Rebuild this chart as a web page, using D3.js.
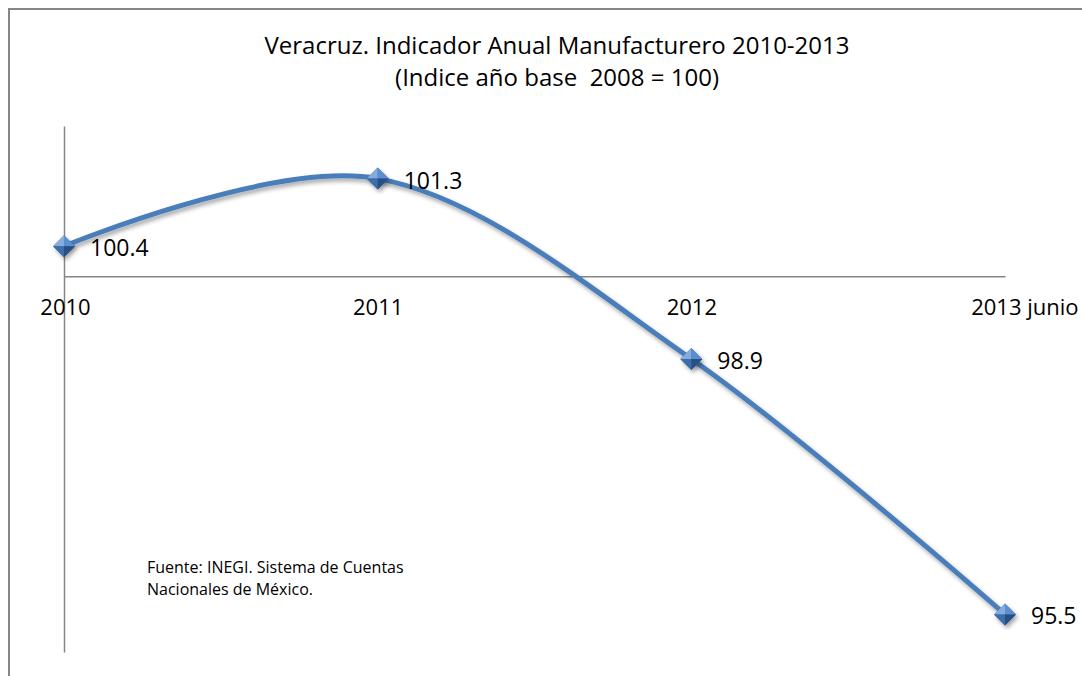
<!DOCTYPE html>
<html>
<head>
<meta charset="utf-8">
<script src="https://cdn.jsdelivr.net/npm/d3@7"></script>
<style>
  body { margin: 0; background: #fff; }
  text { font-family: "Open Sans", sans-serif; fill: #000; }
</style>
</head>
<body>
<div id="chart"></div>
<script>
// datos
const categorias = ['2010', '2011', '2012', '2013 junio'];
const valores = [100.4, 101.3, 98.9, 95.5];
const etiquetas = ['100.4', '101.3', '98.9', '95.5'];
const titulo = ['Veracruz. Indicador Anual Manufacturero 2010-2013', '(Indice año base  2008 = 100)'];
const fuente = ['Fuente: INEGI. Sistema de Cuentas', 'Nacionales de México.'];

const svgWidth = 1082;
const svgHeight = 676;
const margin = { top: 126, right: 77, bottom: 24, left: 64 };
const width = svgWidth - margin.left - margin.right;
const height = svgHeight - margin.top - margin.bottom;

const root = d3.select('#chart')
  .append('svg')
  .attr('width', svgWidth)
  .attr('height', svgHeight);

// sombra para linea y marcadores
const defs = root.append('defs');
const f = defs.append('filter').attr('id', 'sombra')
  .attr('x', '-20%').attr('y', '-20%').attr('width', '140%').attr('height', '140%');
f.append('feDropShadow')
  .attr('dx', 2).attr('dy', 3).attr('stdDeviation', 2.2)
  .attr('flood-color', '#000').attr('flood-opacity', 0.35);

// marco del grafico
root.append('path')
  .attr('d', `M9,${svgHeight} L9,9 L${svgWidth},9`)
  .attr('fill', 'none')
  .attr('stroke', '#868686')
  .attr('stroke-width', 2);

const svg = root.append('g')
  .attr('transform', `translate(${margin.left},${margin.top})`);

const xScale = d3.scalePoint()
  .domain(categorias)
  .range([0, width]);

const yScale = d3.scaleLinear()
  .domain([95, 102])
  .range([height, 0]);

// eje Y
svg.append('g')
  .attr('class', 'y-axis')
  .call(d3.axisLeft(yScale).tickValues([]).tickSizeOuter(0))
  .select('.domain')
  .attr('stroke', '#868686')
  .attr('stroke-width', 1.5);

// eje X (cruza en 100)
const xAxis = svg.append('g')
  .attr('class', 'x-axis')
  .attr('transform', `translate(0,${yScale(100)})`)
  .call(d3.axisBottom(xScale).tickSize(0).tickPadding(23));
xAxis.select('.domain')
  .attr('stroke', '#868686')
  .attr('stroke-width', 1.5);
xAxis.selectAll('text')
  .style('font-size', '22px')
  .style('font-family', '"Open Sans", sans-serif')
  .attr('dy', '0.7em');
xAxis.selectAll('.tick text').filter((d, i) => i === 0).attr('dx', 1);
xAxis.selectAll('.tick text').filter((d, i) => i === categorias.length - 1)
  .attr('text-anchor', 'end')
  .attr('dx', 1078 - margin.left - width);

const datos = categorias.map((c, i) => ({ c, v: valores[i], t: etiquetas[i] }));

// linea suavizada
const linea = d3.line()
  .x(d => xScale(d.c))
  .y(d => yScale(d.v))
  .curve(d3.curveCatmullRom.alpha(0));

svg.append('path')
  .datum(datos)
  .attr('fill', 'none')
  .attr('stroke', '#4a7ebb')
  .attr('stroke-width', 5)
  .attr('stroke-linecap', 'round')
  .attr('filter', 'url(#sombra)')
  .attr('d', linea);

// marcadores en rombo con bisel
const r = 11;
const caras = [
  { p: [[0, 0], [-r, 0], [0, -r]], c: '#86abdc' },
  { p: [[0, 0], [0, -r], [r, 0]], c: '#5b8fcf' },
  { p: [[0, 0], [-r, 0], [0, r]], c: '#3d6eab' },
  { p: [[0, 0], [r, 0], [0, r]], c: '#284f82' }
];

const marcas = svg.selectAll('.marca')
  .data(datos)
  .enter().append('g')
  .attr('class', 'marca')
  .attr('transform', d => `translate(${xScale(d.c)},${yScale(d.v)})`);

marcas.append('path')
  .attr('d', `M0,${-r}L${r},0L0,${r}L${-r},0Z`)
  .attr('fill', '#3d6eab')
  .attr('filter', 'url(#sombra)');

caras.forEach(cara => {
  marcas.append('path')
    .attr('d', 'M' + cara.p.map(q => q.join(',')).join('L') + 'Z')
    .attr('fill', cara.c);
});

// etiquetas de datos
svg.selectAll('.etiqueta')
  .data(datos)
  .enter().append('text')
  .attr('class', 'etiqueta')
  .attr('x', d => xScale(d.c) + 26)
  .attr('y', d => yScale(d.v) + 2)
  .attr('dy', '0.35em')
  .style('font-size', '23px')
  .text(d => d.t);

// titulo
root.selectAll('.titulo')
  .data(titulo)
  .enter().append('text')
  .attr('class', 'titulo')
  .attr('x', 557)
  .attr('y', (d, i) => 54 + i * 32)
  .attr('text-anchor', 'middle')
  .style('font-size', '24px')
  .style('white-space', 'pre')
  .text(d => d);

// fuente
root.selectAll('.fuente')
  .data(fuente)
  .enter().append('text')
  .attr('class', 'fuente')
  .attr('x', 147)
  .attr('y', (d, i) => 573 + i * 22)
  .style('font-size', '16px')
  .text(d => d);
</script>
</body>
</html>
